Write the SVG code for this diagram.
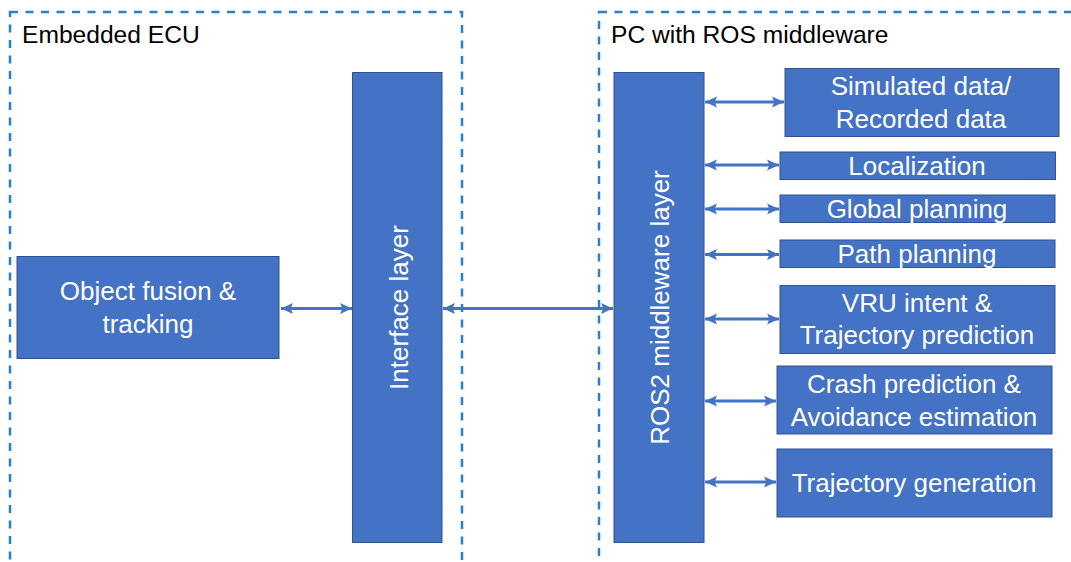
<svg xmlns="http://www.w3.org/2000/svg" width="1071" height="562" viewBox="0 0 1071 562">
<defs>
<style>
.bg{fill:#ffffff}
.grp{fill:none;stroke:#2A7FCE;stroke-width:2.5;stroke-dasharray:8 7.5}
.box{fill:#4472C4;stroke:#2F528F;stroke-width:1}
.t{font-family:"Liberation Sans",Arial,sans-serif;font-size:26px;fill:#ffffff;text-anchor:middle}
.title{font-family:"Liberation Sans",Arial,sans-serif;font-size:24.6px;fill:#000000}
.arr{fill:none;stroke:#4472C4;stroke-width:3;marker-start:url(#ah);marker-end:url(#ah)}
</style>
<marker id="ah" markerUnits="userSpaceOnUse" markerWidth="12" markerHeight="12" viewBox="0 0 10 10" refX="10" refY="5" orient="auto-start-reverse">
<path d="M0,0.5 L10,5 L0,9.5 L2,5 z" fill="#4472C4"/>
</marker>
</defs>
<rect class="bg" x="0" y="0" width="1071" height="562"/>

<g id="group-ecu">
<rect class="grp" x="10" y="12" width="452" height="620"/>
<text class="title" x="22" y="43">Embedded ECU</text>
</g>
<g id="group-pc">
<rect class="grp" x="599" y="12" width="520" height="620"/>
<text class="title" x="611" y="43">PC with ROS middleware</text>
</g>

<g id="connectors">
<line class="arr" x1="281" y1="308.5" x2="352" y2="308.5"/>
<line class="arr" x1="443" y1="308.5" x2="613" y2="308.5"/>
<line class="arr" x1="705" y1="102" x2="784" y2="102"/>
<line class="arr" x1="705" y1="165" x2="779" y2="165"/>
<line class="arr" x1="705" y1="209" x2="779" y2="209"/>
<line class="arr" x1="705" y1="254.5" x2="779" y2="254.5"/>
<line class="arr" x1="705" y1="319" x2="779" y2="319"/>
<line class="arr" x1="705" y1="401" x2="776" y2="401"/>
<line class="arr" x1="705" y1="482" x2="776" y2="482"/>
</g>

<g id="object-fusion">
<rect class="box" x="17" y="256.5" width="262" height="102"/>
<text class="t" x="148" y="300">Object fusion &amp;</text>
<text class="t" x="148" y="333">tracking</text>
</g>

<g id="interface-layer">
<rect class="box" x="352.5" y="72.5" width="89.5" height="470"/>
<text class="t" transform="translate(408,307.5) rotate(-90)">Interface layer</text>
</g>

<g id="ros2-layer">
<rect class="box" x="614" y="72.5" width="90" height="470"/>
<text class="t" transform="translate(669,307.5) rotate(-90)">ROS2 middleware layer</text>
</g>

<g id="simulated-data">
<rect class="box" x="785" y="68.5" width="274" height="68"/>
<text class="t" x="921" y="95">Simulated data/</text>
<text class="t" x="921" y="128">Recorded data</text>
</g>

<g id="localization">
<rect class="box" x="780" y="152" width="275.5" height="27.5"/>
<text class="t" x="917" y="175">Localization</text>
</g>

<g id="global-planning">
<rect class="box" x="780" y="195" width="275" height="27.5"/>
<text class="t" x="917" y="218">Global planning</text>
</g>

<g id="path-planning">
<rect class="box" x="780" y="240" width="275" height="27.5"/>
<text class="t" x="917" y="263">Path planning</text>
</g>

<g id="vru-intent">
<rect class="box" x="780" y="285.5" width="275" height="68"/>
<text class="t" x="917" y="312">VRU intent &amp;</text>
<text class="t" x="917" y="344">Trajectory prediction</text>
</g>

<g id="crash-prediction">
<rect class="box" x="777" y="366" width="275" height="68"/>
<text class="t" x="914" y="393">Crash prediction &amp;</text>
<text class="t" x="914" y="426">Avoidance estimation</text>
</g>

<g id="trajectory-generation">
<rect class="box" x="777" y="449" width="275" height="68"/>
<text class="t" x="914" y="492">Trajectory generation</text>
</g>
</svg>
